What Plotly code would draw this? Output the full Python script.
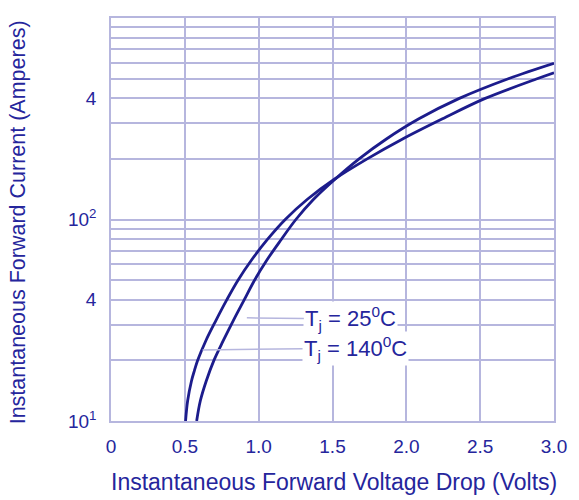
import math
import plotly.graph_objects as go

# ---- data ----
# Tj = 140 C (left curve at low current)
v_140 = [0.505, 0.519, 0.545, 0.565, 0.587, 0.643, 0.711, 0.783, 0.861, 0.953, 1.058, 1.18,
         1.33, 1.51, 1.735, 1.975, 2.245, 2.53, 2.89, 3.0]
i_140 = [10, 12.6, 15.8, 17.8, 20.0, 25.1, 31.6, 39.8, 50.1, 63.1, 79.4, 100,
         126, 158, 200, 251, 316, 398, 501, 535]

# Tj = 25 C (right curve at low current)
v_25 = [0.58, 0.605, 0.645, 0.697, 0.761, 0.829, 0.901, 0.973, 1.057, 1.152, 1.252,
        1.372, 1.515, 1.68, 1.865, 2.085, 2.355, 2.695, 3.0]
i_25 = [10, 12.6, 15.8, 20.0, 25.1, 31.6, 39.8, 50.1, 63.1, 79.4, 100,
        126, 158, 200, 251, 316, 398, 501, 596]

x_tick_vals = [0, 0.5, 1.0, 1.5, 2.0, 2.5, 3.0]
x_tick_text = ["0", "0.5", "1.0", "1.5", "2.0", "2.5", "3.0"]

y_tick_vals = [10, 40, 100, 400]
y_tick_text = ["10<sup>1</sup>", "4", "10<sup>2</sup>", "4"]
y_grid_vals = [10, 20, 30, 40, 50, 60, 70, 80, 90,
               100, 200, 300, 400, 500, 600, 700, 800, 900, 1000]

x_title = "Instantaneous Forward Voltage Drop (Volts)"
y_title = "Instantaneous Forward Current (Amperes)"

label_140 = "T<sub>j</sub> = 140<sup>0</sup>C"
label_25 = "T<sub>j</sub> = 25<sup>0</sup>C"
label_140_point = (0.62, 22.5)
label_25_point = (0.92, 32.5)

# ---- styles ----
CURVE = "#1c1c8c"
TEXT = "#25259c"
GRID = "#b6b6de"
FONT = "Liberation Sans, Arial, sans-serif"

fig = go.Figure()
fig.add_trace(go.Scatter(x=v_140, y=i_140, mode="lines",
                         line=dict(color=CURVE, width=2.8, shape="spline", smoothing=1.0),
                         showlegend=False, hoverinfo="skip"))
fig.add_trace(go.Scatter(x=v_25, y=i_25, mode="lines",
                         line=dict(color=CURVE, width=2.8, shape="spline", smoothing=1.0),
                         showlegend=False, hoverinfo="skip"))

for txt, (px, py), ax, ay in [(label_140, label_140_point, 153, -2), (label_25, label_25_point, 104, 1)]:
    fig.add_annotation(x=px, y=math.log10(py), xref="x", yref="y", text=txt, showarrow=True, arrowhead=0,
                       arrowwidth=1.5, arrowcolor=GRID, ax=ax, ay=ay,
                       bgcolor="white", borderpad=1,
                       font=dict(family=FONT, size=22, color=TEXT))

# axis titles
fig.add_annotation(text=x_title, xref="paper", yref="paper", x=0.5034, y=-0.152,
                   xanchor="center", yanchor="middle", showarrow=False,
                   font=dict(family=FONT, size=23, color=TEXT))
fig.add_annotation(text=y_title, xref="paper", yref="paper", x=-0.2108, y=0.492,
                   xanchor="center", yanchor="middle", showarrow=False, textangle=-90,
                   font=dict(family=FONT, size=21.5, color=TEXT))

fig.update_layout(
    width=579, height=500,
    margin=dict(l=111, r=22, t=18, b=79),
    paper_bgcolor="white", plot_bgcolor="white",
    font=dict(family=FONT, color=TEXT),
)
fig.update_xaxes(
    range=[0, 3], tickvals=x_tick_vals, ticktext=x_tick_text,
    showgrid=True, gridcolor=GRID, gridwidth=1.5,
    showline=True, linecolor=GRID, linewidth=1.5, mirror=True,
    zeroline=False, ticks="", ticklabelstandoff=7,
    tickfont=dict(family=FONT, size=19, color=TEXT),
)
fig.update_yaxes(
    type="log", range=[1, 3], tickvals=y_tick_vals, ticktext=y_tick_text,
    showgrid=True, gridcolor=GRID, gridwidth=1.5,
    minor=dict(tickmode="array", tickvals=y_grid_vals, showgrid=True,
               gridcolor=GRID, gridwidth=1.5, ticks=""),
    showline=True, linecolor=GRID, linewidth=1.5, mirror=True,
    zeroline=False, ticks="", ticklabelstandoff=9,
    tickfont=dict(family=FONT, size=19, color=TEXT),
)

fig.write_html("out.html", config={"displayModeBar": False},
               post_script="document.body.style.margin='0';document.body.style.padding='0';")
